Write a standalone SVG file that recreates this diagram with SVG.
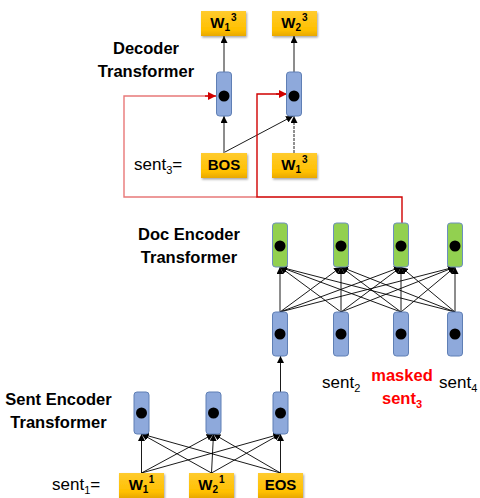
<svg xmlns="http://www.w3.org/2000/svg" width="480" height="498" viewBox="0 0 480 498">
  <defs>
    <linearGradient id="gold" x1="0" y1="0" x2="0" y2="1">
      <stop offset="0" stop-color="#FFCB2E"/>
      <stop offset="0.75" stop-color="#FFC000"/>
      <stop offset="1" stop-color="#E8A800"/>
    </linearGradient>
    <filter id="shadow" x="-20%" y="-20%" width="140%" height="150%">
      <feDropShadow dx="1" dy="1.5" stdDeviation="1" flood-color="#000" flood-opacity="0.35"/>
    </filter>
    <marker id="arr" viewBox="0 0 10 10" refX="10" refY="5" markerWidth="7" markerHeight="7" markerUnits="userSpaceOnUse" orient="auto">
      <path d="M0,0 L10,5 L0,10 z" fill="#000"/>
    </marker>
    <marker id="arrRed" viewBox="0 0 10 10" refX="10" refY="5" markerWidth="8" markerHeight="8" markerUnits="userSpaceOnUse" orient="auto">
      <path d="M0,0 L10,5 L0,10 z" fill="#D00000"/>
    </marker>
  </defs>
  <style>
    .tok { fill: url(#gold); filter: url(#shadow); }
    .tokTxt { font-family: "Liberation Sans", Arial, sans-serif; font-weight: bold; font-size: 15px; fill: #000; text-anchor: middle; }
    .vecB { fill: #8EA9DB; stroke: #5F7FB5; stroke-width: 1; }
    .vecG { fill: #92D050; stroke: #6C8EBF; stroke-width: 1; }
    .dot { fill: #000; }
    .title { font-family: "Liberation Sans", Arial, sans-serif; font-weight: bold; font-size: 16.5px; fill: #000; text-anchor: middle; }
    .lbl { font-family: "Liberation Sans", Arial, sans-serif; font-size: 17px; fill: #000; }
    .red { font-family: "Liberation Sans", Arial, sans-serif; font-weight: bold; font-size: 16.5px; fill: #FF0000; text-anchor: middle; }
    .edge { stroke: #000; stroke-width: 0.9; fill: none; marker-end: url(#arr); }
    .edgeDot { stroke: #222; stroke-width: 1; fill: none; stroke-dasharray: 3 1; marker-end: url(#arr); }
    .ctxLight { stroke: #E87878; stroke-width: 1.4; fill: none; }
    .ctx { stroke: #D00000; stroke-width: 1.4; fill: none; }
  </style>

  <!-- section titles -->
  <g id="titles">
    <text class="title" x="146" y="54">Decoder</text>
    <text class="title" x="146" y="77">Transformer</text>
    <text class="title" x="189" y="240">Doc Encoder</text>
    <text class="title" x="189" y="263">Transformer</text>
    <text class="title" x="58.5" y="405">Sent Encoder</text>
    <text class="title" x="58.5" y="428">Transformer</text>
  </g>

  <!-- sentence labels -->
  <g id="labels">
    <text class="lbl" x="134" y="170">sent<tspan font-size="11" dy="4">3</tspan><tspan dy="-4">=</tspan></text>
    <text class="lbl" x="52" y="490">sent<tspan font-size="11" dy="4">1</tspan><tspan dy="-4">=</tspan></text>
    <text class="lbl" x="322" y="388">sent<tspan font-size="11" dy="4">2</tspan></text>
    <text class="lbl" x="439" y="388">sent<tspan font-size="11" dy="4">4</tspan></text>
    <text class="red" x="402" y="381">masked</text>
    <text class="red" x="402" y="404">sent<tspan font-size="11" dy="4">3</tspan></text>
  </g>

  <!-- connectors -->
  <g id="connectors">
    <!-- decoder -->
    <line class="edge" x1="224" y1="72" x2="224" y2="36"/>
    <line class="edge" x1="294" y1="72" x2="294" y2="36"/>
    <line class="edge" x1="224" y1="153" x2="224" y2="116"/>
    <line class="edge" x1="225" y1="152" x2="293" y2="116"/>
    <line class="edgeDot" x1="294" y1="153" x2="294" y2="116"/>

    <!-- document context routed into the decoder -->
    <path class="ctxLight" d="M257,197 H124 V96 H212"/>
    <path d="M205,96 H216" stroke="#D00000" stroke-width="1.4" marker-end="url(#arrRed)"/>
    <path class="ctx" d="M402,223 V197 H257 V94 H283"/>
    <path d="M276,94 H287" stroke="#D00000" stroke-width="1.4" marker-end="url(#arrRed)"/>

    <!-- doc encoder: full attention from sentence vectors -->
    <line class="edge" x1="280" y1="312" x2="280" y2="267"/>
    <line class="edge" x1="280" y1="312" x2="341" y2="267"/>
    <line class="edge" x1="280" y1="312" x2="401" y2="267"/>
    <line class="edge" x1="280" y1="312" x2="455" y2="267"/>
    <line class="edge" x1="341" y1="312" x2="280" y2="267"/>
    <line class="edge" x1="341" y1="312" x2="341" y2="267"/>
    <line class="edge" x1="341" y1="312" x2="401" y2="267"/>
    <line class="edge" x1="341" y1="312" x2="455" y2="267"/>
    <line class="edge" x1="401" y1="312" x2="280" y2="267"/>
    <line class="edge" x1="401" y1="312" x2="341" y2="267"/>
    <line class="edge" x1="401" y1="312" x2="401" y2="267"/>
    <line class="edge" x1="401" y1="312" x2="455" y2="267"/>
    <line class="edge" x1="455" y1="312" x2="280" y2="267"/>
    <line class="edge" x1="455" y1="312" x2="341" y2="267"/>
    <line class="edge" x1="455" y1="312" x2="401" y2="267"/>
    <line class="edge" x1="455" y1="312" x2="455" y2="267"/>

    <!-- sentence vector into doc encoder -->
    <line class="edge" x1="280.5" y1="392" x2="280.5" y2="356"/>

    <!-- sent encoder: full attention over tokens -->
    <line class="edge" x1="141.5" y1="473" x2="141.5" y2="434"/>
    <line class="edge" x1="141.5" y1="473" x2="213.5" y2="434"/>
    <line class="edge" x1="141.5" y1="473" x2="280.5" y2="434"/>
    <line class="edge" x1="211.5" y1="473" x2="141.5" y2="434"/>
    <line class="edge" x1="211.5" y1="473" x2="213.5" y2="434"/>
    <line class="edge" x1="211.5" y1="473" x2="280.5" y2="434"/>
    <line class="edge" x1="280.5" y1="473" x2="141.5" y2="434"/>
    <line class="edge" x1="280.5" y1="473" x2="213.5" y2="434"/>
    <line class="edge" x1="280.5" y1="473" x2="280.5" y2="434"/>
  </g>

  <!-- decoder tokens -->
  <g id="out-w1-3">
    <rect class="tok" x="201" y="11" width="45" height="25"/>
    <text class="tokTxt" x="223.5" y="28">W<tspan font-size="10" dy="3">1</tspan><tspan font-size="10" dx="1" dy="-10">3</tspan></text>
  </g>
  <g id="out-w2-3">
    <rect class="tok" x="272" y="11" width="45" height="25"/>
    <text class="tokTxt" x="294.5" y="28">W<tspan font-size="10" dy="3">2</tspan><tspan font-size="10" dx="1" dy="-10">3</tspan></text>
  </g>
  <g id="in-bos">
    <rect class="tok" x="201" y="153" width="46" height="25"/>
    <text class="tokTxt" x="224" y="170" font-size="13.5">BOS</text>
  </g>
  <g id="in-w1-3">
    <rect class="tok" x="272" y="153" width="45" height="25"/>
    <text class="tokTxt" x="294.5" y="170">W<tspan font-size="10" dy="3">1</tspan><tspan font-size="10" dx="1" dy="-10">3</tspan></text>
  </g>

  <!-- decoder vectors -->
  <g id="dec-1"><rect class="vecB" x="216.5" y="72" width="15" height="44" rx="3"/><circle class="dot" cx="224" cy="96" r="5.5"/></g>
  <g id="dec-2"><rect class="vecB" x="286.5" y="72" width="15" height="44" rx="3"/><circle class="dot" cx="294" cy="96" r="5.5"/></g>

  <!-- doc encoder outputs -->
  <g id="doc-out-1"><rect class="vecG" x="272.5" y="223" width="15" height="44" rx="3"/><circle class="dot" cx="280" cy="246" r="5.5"/></g>
  <g id="doc-out-2"><rect class="vecG" x="333.5" y="223" width="15" height="44" rx="3"/><circle class="dot" cx="341" cy="246" r="5.5"/></g>
  <g id="doc-out-3"><rect class="vecG" x="393.5" y="223" width="15" height="44" rx="3"/><circle class="dot" cx="401" cy="246" r="5.5"/></g>
  <g id="doc-out-4"><rect class="vecG" x="447.5" y="223" width="15" height="44" rx="3"/><circle class="dot" cx="455" cy="246" r="5.5"/></g>

  <!-- doc encoder inputs (sentence vectors) -->
  <g id="doc-in-1"><rect class="vecB" x="272.5" y="312" width="15" height="44" rx="3"/><circle class="dot" cx="280" cy="334" r="5.5"/></g>
  <g id="doc-in-2"><rect class="vecB" x="333.5" y="312" width="15" height="44" rx="3"/><circle class="dot" cx="341" cy="334" r="5.5"/></g>
  <g id="doc-in-3"><rect class="vecB" x="393.5" y="312" width="15" height="44" rx="3"/><circle class="dot" cx="401" cy="334" r="5.5"/></g>
  <g id="doc-in-4"><rect class="vecB" x="447.5" y="312" width="15" height="44" rx="3"/><circle class="dot" cx="455" cy="334" r="5.5"/></g>

  <!-- sent encoder vectors -->
  <g id="sent-1"><rect class="vecB" x="134" y="392" width="15" height="42" rx="3"/><circle class="dot" cx="141.5" cy="413" r="5.5"/></g>
  <g id="sent-2"><rect class="vecB" x="206" y="392" width="15" height="42" rx="3"/><circle class="dot" cx="213.5" cy="413" r="5.5"/></g>
  <g id="sent-3"><rect class="vecB" x="273" y="392" width="15" height="42" rx="3"/><circle class="dot" cx="280.5" cy="413" r="5.5"/></g>

  <!-- sent encoder tokens -->
  <g id="tok-w1-1">
    <rect class="tok" x="119" y="473" width="45" height="25"/>
    <text class="tokTxt" x="141.5" y="490">W<tspan font-size="10" dy="3">1</tspan><tspan font-size="10" dx="1" dy="-10">1</tspan></text>
  </g>
  <g id="tok-w2-1">
    <rect class="tok" x="189" y="473" width="45" height="25"/>
    <text class="tokTxt" x="211.5" y="490">W<tspan font-size="10" dy="3">2</tspan><tspan font-size="10" dx="1" dy="-10">1</tspan></text>
  </g>
  <g id="tok-eos">
    <rect class="tok" x="258" y="473" width="45" height="25"/>
    <text class="tokTxt" x="280.5" y="490" font-size="13.5">EOS</text>
  </g>
</svg>
